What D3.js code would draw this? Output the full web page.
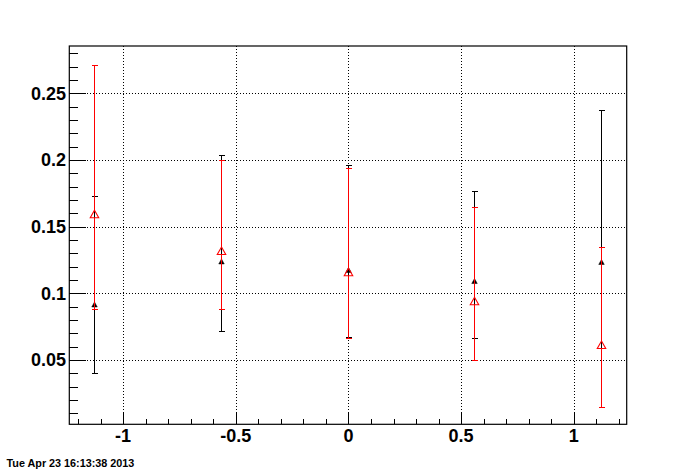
<!DOCTYPE html>
<html>
<head>
<meta charset="utf-8">
<script src="https://cdn.jsdelivr.net/npm/d3@7"></script>
<style>
  body { margin: 0; background: #fff; }
  text { font-family: "Liberation Sans", Arial, sans-serif; font-weight: bold; }
  line { shape-rendering: crispEdges; }
</style>
</head>
<body>
<script>
var width = 696;
var height = 472;

// x positions of the bins
var xs = [-1.131, -0.565, 0, 0.556, 1.122];

// black series (filled triangles)
var blackY  = [0.0916, 0.1239, 0.1175, 0.1092, 0.1235];
var blackLo = [0.040, 0.0715, 0.067, 0.0662, 0.015];
var blackHi = [0.173, 0.204, 0.1965, 0.177, 0.2377];

// red series (open triangles)
var redY  = [0.1595, 0.1319, 0.116, 0.0942, 0.0614];
var redLo = [0.088, 0.0885, 0.0667, 0.0497, 0.015];
var redHi = [0.2715, 0.1998, 0.1937, 0.1645, 0.1347];

var xMajor = [-1, -0.5, 0, 0.5, 1];
var yMajor = [0.05, 0.1, 0.15, 0.2, 0.25];
var stamp = 'Tue Apr 23 16:13:38 2013';

var svg = d3.select('body')
  .append('svg')
  .attr('width', width)
  .attr('height', height);

// frame edges (window.top is taken, so prefix them)
var fLeft = 69.3, fRight = 626.7, fTop = 46, fBottom = 424.3;

var x = d3.scaleLinear().domain([-1.2386, 1.2346]).range([fLeft, fRight]);
var y = d3.scaleLinear().domain([0.00175, 0.2855]).range([fBottom, fTop]);

// snap to pixel centre
var px = v => Math.round(v) + 0.5;

// grid - dotted at major ticks
var grid = svg.append('g')
  .attr('stroke', '#000')
  .attr('stroke-width', 1)
  .attr('stroke-dasharray', '1,2');

grid.selectAll('.gx')
  .data(xMajor)
  .enter()
  .append('line')
  .attr('x1', d => px(x(d)))
  .attr('x2', d => px(x(d)))
  .attr('y1', fTop)
  .attr('y2', fBottom);

grid.selectAll('.gy')
  .data(yMajor)
  .enter()
  .append('line')
  .attr('x1', fLeft)
  .attr('x2', fRight)
  .attr('y1', d => px(y(d)))
  .attr('y2', d => px(y(d)));

// axes: ticks drawn inward (root style)
var xAxis = d3.axisTop(x)
  .tickValues(d3.range(-12, 13).map(d => d / 10))
  .tickSize(5.5)
  .tickFormat('');
svg.append('g')
  .attr('transform', 'translate(0,' + fBottom + ')')
  .call(xAxis)
  .call(g => g.select('.domain').remove())
  .call(g => g.selectAll('.tick')
    .filter(d => xMajor.some(m => Math.abs(m - d) < 1e-9))
    .select('line').attr('y2', -11));

var yAxis = d3.axisRight(y)
  .tickValues(d3.range(1, 29).map(d => d / 100))
  .tickSize(8.5)
  .tickFormat('');
svg.append('g')
  .attr('transform', 'translate(' + fLeft + ',0)')
  .call(yAxis)
  .call(g => g.select('.domain').remove())
  .call(g => g.selectAll('.tick')
    .filter(d => yMajor.some(m => Math.abs(m - d) < 1e-9))
    .select('line').attr('x2', 17));

svg.selectAll('.tick line').attr('stroke', '#000');

// tick labels
svg.append('g').selectAll('text')
  .data(xMajor)
  .enter()
  .append('text')
  .attr('x', d => x(d))
  .attr('y', 442)
  .attr('text-anchor', 'middle')
  .attr('font-size', 18)
  .text(d => d3.format('')(d).replace('−', '-'));

svg.append('g').selectAll('text')
  .data(yMajor)
  .enter()
  .append('text')
  .attr('x', 66)
  .attr('y', d => y(d) + 6.5)
  .attr('text-anchor', 'end')
  .attr('font-size', 18)
  .text(d => d3.format('')(d));

// frame
svg.append('rect')
  .attr('x', fLeft)
  .attr('y', fTop)
  .attr('width', fRight - fLeft)
  .attr('height', fBottom - fTop)
  .attr('fill', 'none')
  .attr('stroke', '#000')
  .attr('stroke-width', 1.2);

function drawSeries(ys, lo, hi, color, w, h, filled) {
  var g = svg.append('g');
  var data = xs.map((d, i) => ({x: d, y: ys[i], lo: lo[i], hi: hi[i]}));
  var pts = g.selectAll('g').data(data).enter().append('g');
  // error bar split around the marker
  pts.append('line')
    .attr('x1', d => px(x(d.x))).attr('x2', d => px(x(d.x)))
    .attr('y1', d => y(d.hi)).attr('y2', d => y(d.y) - h / 2)
    .attr('stroke', color);
  pts.append('line')
    .attr('x1', d => px(x(d.x))).attr('x2', d => px(x(d.x)))
    .attr('y1', d => y(d.y) + h / 2).attr('y2', d => y(d.lo))
    .attr('stroke', color);
  // caps
  ['hi', 'lo'].forEach(k => {
    pts.append('line')
      .attr('x1', d => px(x(d.x)) - 2.5).attr('x2', d => px(x(d.x)) + 3.5)
      .attr('y1', d => px(y(d[k]))).attr('y2', d => px(y(d[k])))
      .attr('stroke', color);
  });
  pts.append('path')
    .attr('d', d => {
      var cx = px(x(d.x)), cy = y(d.y);
      return 'M' + cx + ',' + (cy - h / 2) +
        'L' + (cx + w / 2) + ',' + (cy + h / 2) +
        'L' + (cx - w / 2) + ',' + (cy + h / 2) + 'Z';
    })
    .attr('fill', filled ? color : 'none')
    .attr('stroke', color)
    .attr('stroke-width', filled ? 0.5 : 1.1);
}

drawSeries(blackY, blackLo, blackHi, '#000', 5.5, 5, true);
drawSeries(redY, redLo, redHi, '#ff0000', 8.5, 7.5, false);

// date stamp
svg.append('text')
  .attr('x', 6.5)
  .attr('y', 467)
  .attr('font-size', 10.8)
  .text(stamp);
</script>
</body>
</html>
